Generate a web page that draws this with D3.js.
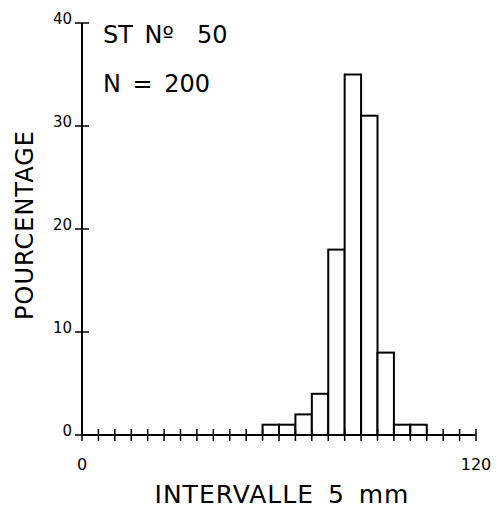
<!DOCTYPE html>
<html>
<head>
<meta charset="utf-8">
<script src="https://cdn.jsdelivr.net/npm/d3@7"></script>
<style>
  body { margin: 0; background: #fff; }
  svg text { font-family: "DejaVu Sans", sans-serif; fill: #000; }
</style>
</head>
<body>
<div id="chart"></div>
<script>
// class starts (mm) and percentage per 5 mm class
var binStarts = [55, 60, 65, 70, 75, 80, 85, 90, 95, 100];
var percents  = [1, 1, 2, 4, 18, 35, 31, 8, 1, 1];
var yTicks = [0, 10, 20, 30, 40];
var xLabels = [0, 120];
var binWidth = 5;

var width = 500, height = 509;

var svg = d3.select("#chart").append("svg")
  .attr("width", width)
  .attr("height", height);

var x = d3.scaleLinear().domain([0, 120]).range([82, 476]);
var y = d3.scaleLinear().domain([0, 40]).range([435, 23]);

// bars
svg.selectAll(".bar")
  .data(binStarts)
  .enter().append("rect")
    .attr("class", "bar")
    .attr("x", function(d) { return x(d); })
    .attr("y", function(d, i) { return y(percents[i]); })
    .attr("width", function(d) { return x(d + binWidth) - x(d); })
    .attr("height", function(d, i) { return y(0) - y(percents[i]); })
    .attr("fill", "#fff")
    .attr("stroke", "#000")
    .attr("stroke-width", 2);

// x axis: line plus crossing ticks every 5 mm
var xTickVals = d3.range(0, 121, 5);
svg.append("line")
  .attr("x1", x(0)).attr("x2", x(120))
  .attr("y1", y(0)).attr("y2", y(0))
  .attr("stroke", "#000").attr("stroke-width", 2);
svg.selectAll(".xtick")
  .data(xTickVals)
  .enter().append("line")
    .attr("x1", function(d) { return x(d); })
    .attr("x2", function(d) { return x(d); })
    .attr("y1", y(0) - 6).attr("y2", y(0) + 6)
    .attr("stroke", "#000").attr("stroke-width", 1.5);
svg.selectAll(".xlabel")
  .data(xLabels)
  .enter().append("text")
    .attr("x", function(d) { return x(d); })
    .attr("y", 470)
    .attr("text-anchor", "middle")
    .attr("font-size", 16)
    .text(function(d) { return d; });

// y axis
svg.append("line")
  .attr("x1", x(0)).attr("x2", x(0))
  .attr("y1", y(0)).attr("y2", y(40))
  .attr("stroke", "#000").attr("stroke-width", 2);
svg.selectAll(".ytick")
  .data(yTicks)
  .enter().append("line")
    .attr("x1", x(0) - 7).attr("x2", x(0) + 7)
    .attr("y1", function(d) { return y(d); })
    .attr("y2", function(d) { return y(d); })
    .attr("stroke", "#000").attr("stroke-width", 1.5);
svg.selectAll(".ylabel")
  .data(yTicks)
  .enter().append("text")
    .attr("x", 72)
    .attr("y", function(d) { return y(d) + 1; })
    .attr("text-anchor", "end")
    .attr("font-size", 15)
    .text(function(d) { return d; });

// axis titles
svg.append("text")
  .attr("x", 282).attr("y", 503)
  .attr("text-anchor", "middle")
  .attr("font-size", 25)
  .attr("letter-spacing", 1)
  .attr("word-spacing", 5)
  .text("INTERVALLE 5 mm");

svg.append("text")
  .attr("transform", "translate(33,225) rotate(-90)")
  .attr("text-anchor", "middle")
  .attr("font-size", 24)
  .attr("letter-spacing", 1)
  .text("POURCENTAGE");

// station annotation
svg.append("text")
  .attr("x", 103).attr("y", 43)
  .attr("font-size", 24)
  .attr("word-spacing", 4)
  .attr("xml:space", "preserve")
  .text("ST Nº  50");
svg.append("text")
  .attr("x", 103).attr("y", 92)
  .attr("font-size", 24)
  .attr("word-spacing", 4)
  .attr("xml:space", "preserve")
  .text("N = 200");
</script>
</body>
</html>
